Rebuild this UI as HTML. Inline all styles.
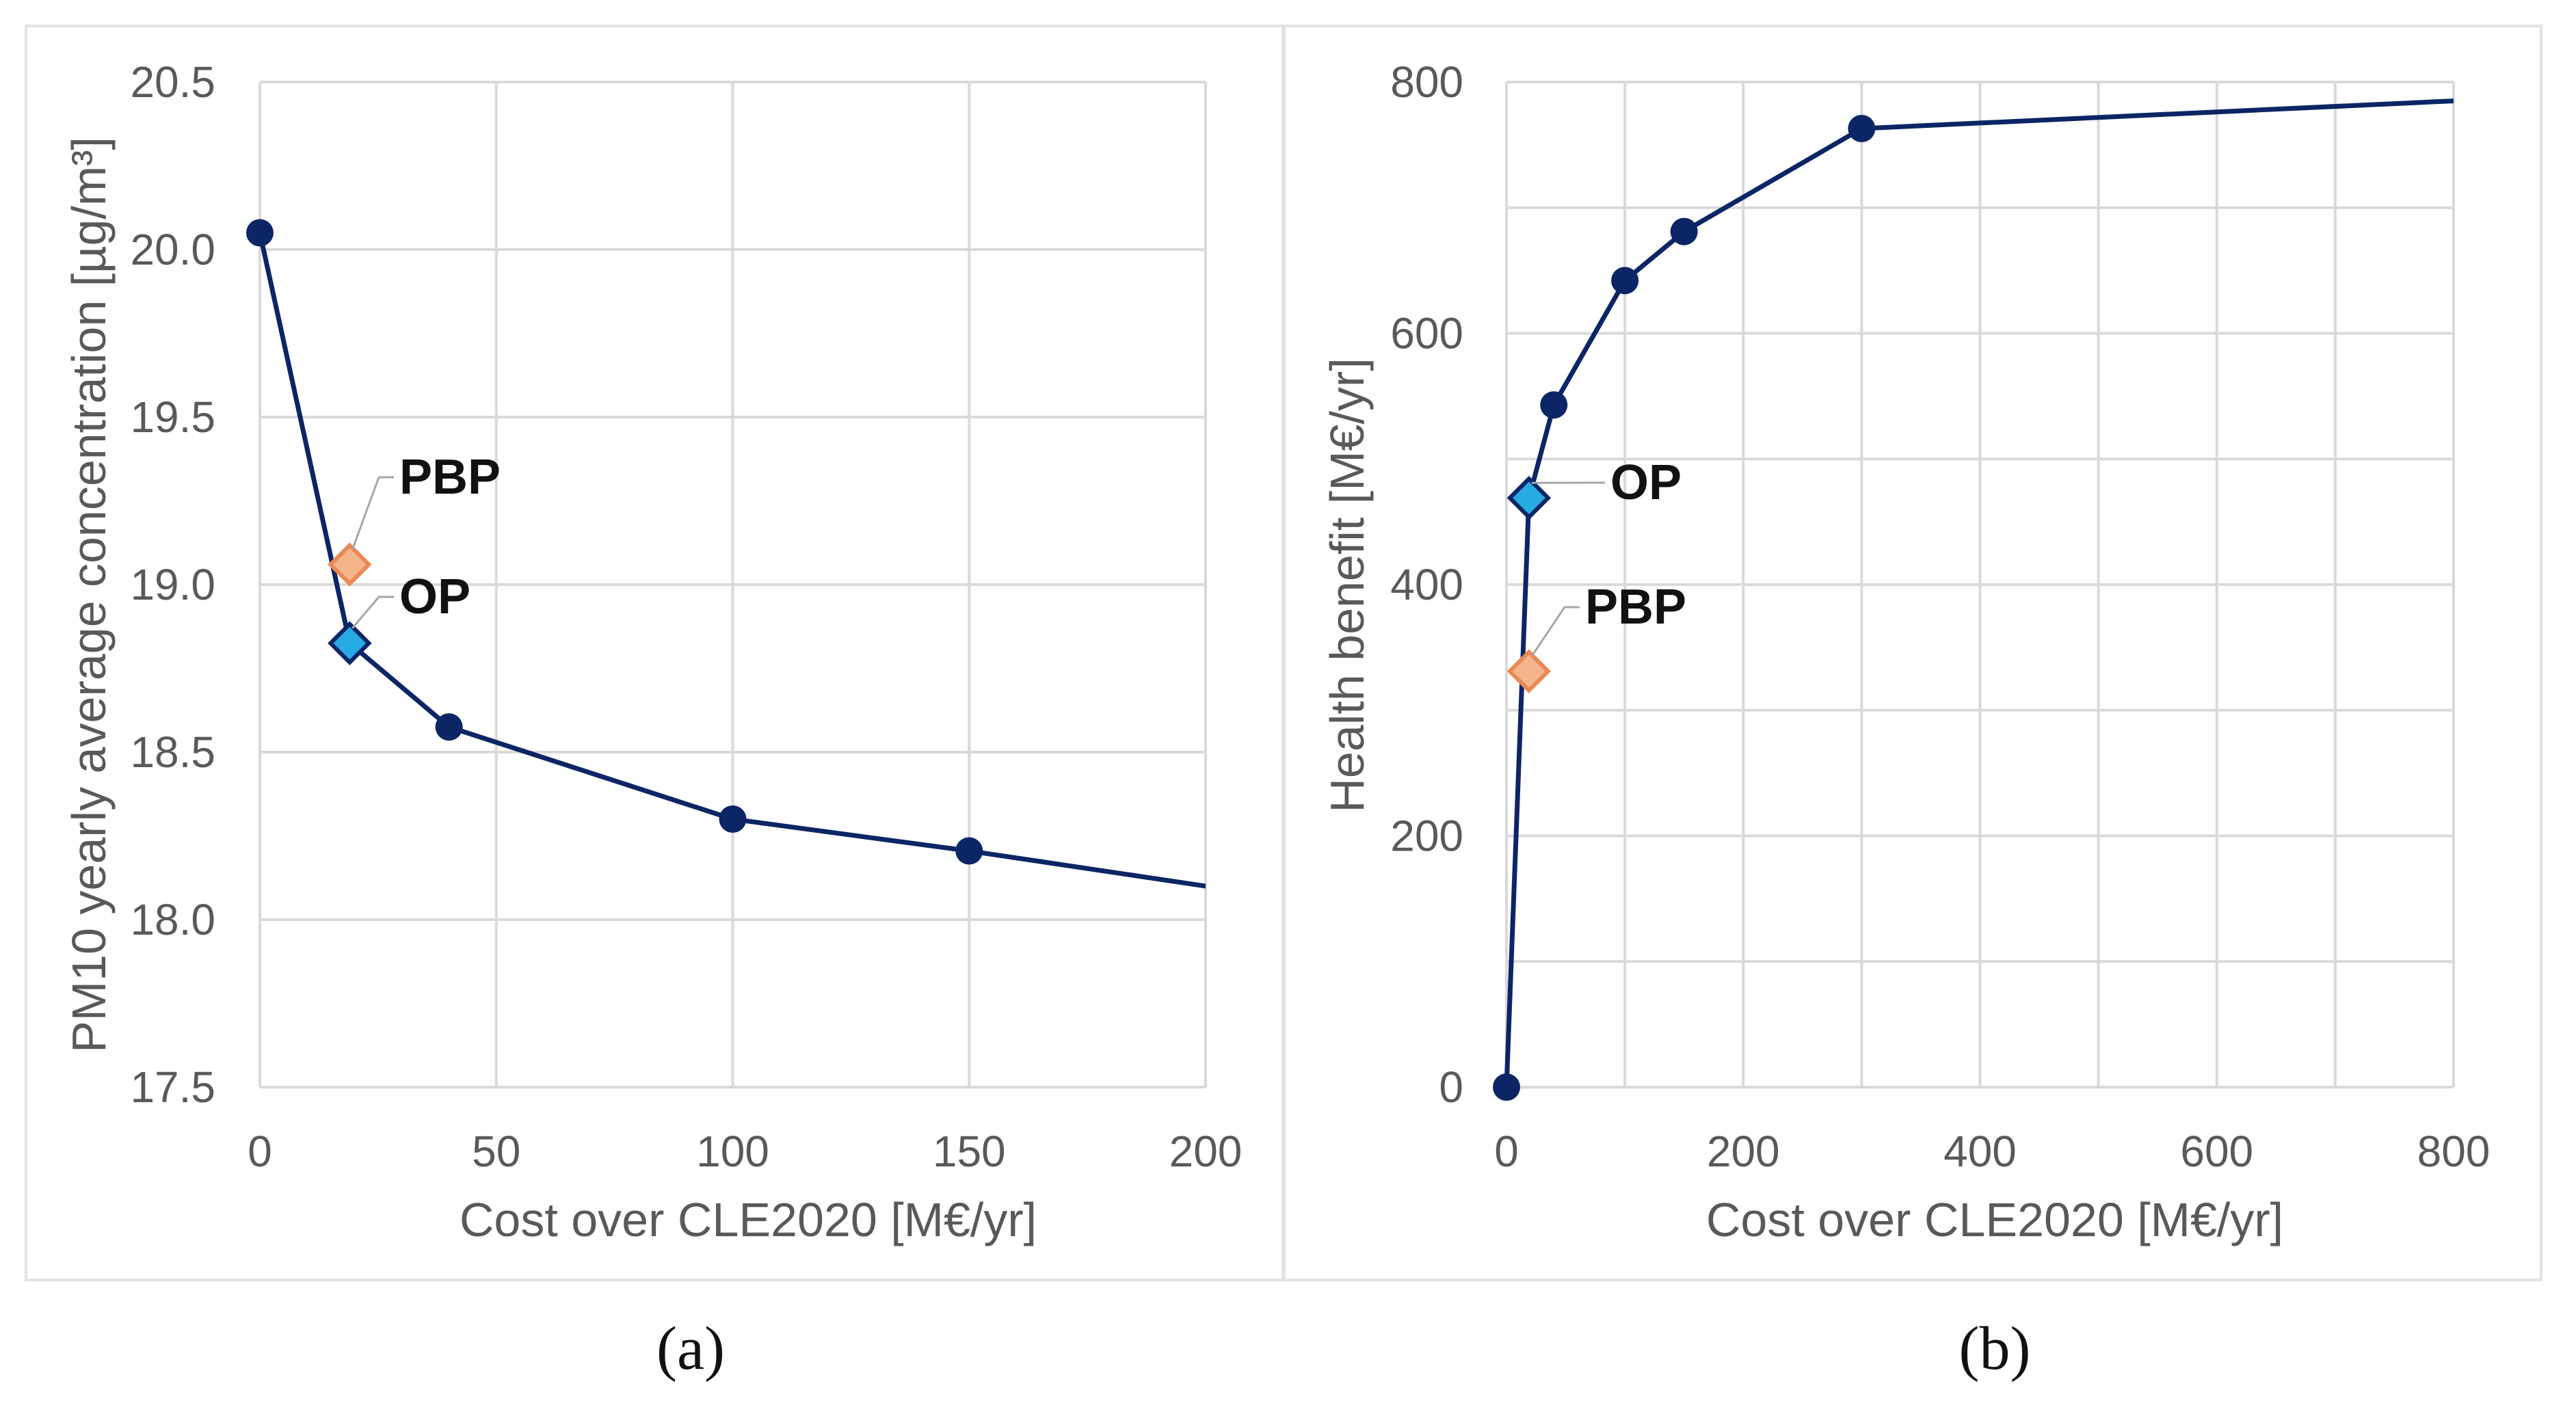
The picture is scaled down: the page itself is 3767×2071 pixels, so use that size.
<!DOCTYPE html>
<html><head><meta charset="utf-8"><style>
html,body{margin:0;padding:0;background:#fff;}
svg{display:block;}
text{font-family:"Liberation Sans",sans-serif;}
</style></head><body>
<svg id="fig" width="3767" height="2071" viewBox="0 0 3767 2071" xmlns="http://www.w3.org/2000/svg">
<defs>
<clipPath id="clipA"><rect x="380" y="100" width="1383" height="1510"/></clipPath>
<clipPath id="clipB"><rect x="2180" y="100" width="1408" height="1510"/></clipPath>
</defs>
<rect x="38" y="38" width="1838" height="1834" fill="#fff" stroke="#e2e2e2" stroke-width="4"/>
<rect x="1878" y="38" width="1838" height="1834" fill="#fff" stroke="#e2e2e2" stroke-width="4"/>
<g id="gA"></g>
<g id="gB"></g>
<text x="1010" y="2002" font-size="90" text-anchor="middle" style="font-family:'Liberation Serif',serif" fill="#111">(a)</text>
<text x="2917" y="2002" font-size="90" text-anchor="middle" style="font-family:'Liberation Serif',serif" fill="#111">(b)</text>
</svg>
<script>
// Panel A data
const aX = [0, 19, 40, 100, 150, 300];
const aY = [20.05, 18.825, 18.575, 18.30, 18.205, 17.89];
const aMarkerX = [0, 40, 100, 150];
const aMarkerY = [20.05, 18.575, 18.30, 18.205];
const aOP = [19, 18.825];
const aPBP = [19, 19.06];
const aXTicks = [0, 50, 100, 150, 200];
const aYTicks = [17.5, 18.0, 18.5, 19.0, 19.5, 20.0, 20.5];
// Panel B data
const bX = [0, 19, 40, 100, 150, 300, 800];
const bY = [0, 469, 543, 642, 681, 763, 785];
const bMarkerX = [0, 40, 100, 150, 300];
const bMarkerY = [0, 543, 642, 681, 763];
const bOP = [19, 469];
const bPBP = [19, 331];
const bXTicks = [0, 200, 400, 600, 800];
const bXGrid = [0, 100, 200, 300, 400, 500, 600, 700, 800];
const bYTicks = [0, 200, 400, 600, 800];
const bYGrid = [0, 100, 200, 300, 400, 500, 600, 700, 800];

const NS = "http://www.w3.org/2000/svg";
function mk(parent, tag, attrs, txt){
  const e = document.createElementNS(NS, tag);
  for (const k in attrs) e.setAttribute(k, attrs[k]);
  if (txt !== undefined) e.textContent = txt;
  parent.appendChild(e);
  return e;
}
const NAVY = "#0b2565";

function drawChart(g, cfg){
  const sx = v => cfg.x0 + (v - cfg.xmin) / (cfg.xmax - cfg.xmin) * (cfg.x1 - cfg.x0);
  const sy = v => cfg.y0 - (v - cfg.ymin) / (cfg.ymax - cfg.ymin) * (cfg.y0 - cfg.y1);
  cfg.xGrid.forEach(v => {
    const l = mk(g, "line", {x1: sx(v), x2: sx(v), y1: cfg.y1, y2: cfg.y0, stroke: "#d9d9d9", "stroke-width": 4});
    
    
  });
  cfg.yGrid.forEach(v => {
    const l = mk(g, "line", {x1: cfg.x0, x2: cfg.x1, y1: sy(v), y2: sy(v), stroke: "#d9d9d9", "stroke-width": 4});
    
    
  });
  cfg.xTicks.forEach(v => {
    const t = mk(g, "text", {x: sx(v), y: 1706, "font-size": 64, fill: "#595959", "text-anchor": "middle"}, String(v));
    
    
  });
  cfg.yTicks.forEach(v => {
    const t = mk(g, "text", {x: cfg.yLabX, y: sy(v) + 22, "font-size": 64, fill: "#595959", "text-anchor": "end"}, cfg.yFmt(v));
    
    
  });
  const xt = mk(g, "text", {x: cfg.xTitleX, y: 1808, "font-size": 70, fill: "#595959", "text-anchor": "middle"}, "Cost over CLE2020 [M€/yr]");
  
  
  const yt = mk(g, "text", {x: 0, y: 0, "font-size": 70, fill: "#595959", "text-anchor": "middle", transform: `translate(${cfg.yTitleX},${cfg.yTitleY}) rotate(-90)`}, cfg.yTitle);
  
  
  const pts = cfg.lx.map((v, i) => sx(v) + "," + sy(cfg.ly[i])).join(" ");
  const pl = mk(g, "polyline", {points: pts, fill: "none", stroke: NAVY, "stroke-width": 7, "stroke-linejoin": "round", "clip-path": cfg.clip});
  
  
  cfg.mx.forEach((v, i) => {
    const c = mk(g, "circle", {cx: sx(v), cy: sy(cfg.my[i]), r: 20, fill: NAVY});
    
    
  });
  function diamond(p, fill, stroke, name){
    const cx = sx(p[0]), cy = sy(p[1]), r = 28;
    const d = mk(g, "polygon", {points: `${cx},${cy-r} ${cx+r},${cy} ${cx},${cy+r} ${cx-r},${cy}`, fill: fill, stroke: stroke, "stroke-width": 6});
    
    
  }
  function label(p, lx, ly, txt, name){
    const cx = sx(p[0]), cy = sy(p[1]);
    const l = mk(g, "polyline", {points: `${cx+4},${cy-22} ${lx-30},${ly-24} ${lx-8},${ly-24}`, fill: "none", stroke: "#a6a6a6", "stroke-width": 3});
    
    
    const t = mk(g, "text", {x: lx, y: ly, "font-size": 72, "font-weight": "bold", fill: "#111"}, txt);
    
    
  }
  diamond(cfg.pbp, "#f6b48c", "#e98a55", "pbp-marker");
  diamond(cfg.op, "#27a9e1", NAVY, "op-marker");
  label(cfg.pbp, cfg.pbpLab[0], cfg.pbpLab[1], "PBP", "pbp");
  label(cfg.op, cfg.opLab[0], cfg.opLab[1], "OP", "op");
}

drawChart(document.getElementById("gA"), {
  x0: 380, x1: 1763, y0: 1590, y1: 120, xmin: 0, xmax: 200, ymin: 17.5, ymax: 20.5,
  xGrid: aXTicks, yGrid: aYTicks, xTicks: aXTicks, yTicks: aYTicks, yFmt: v => v.toFixed(1),
  yLabX: 315, xTitleX: 1094, yTitleX: 154, yTitleY: 870,
  yTitle: "PM10 yearly average concentration  [µg/m³]",
  lx: aX, ly: aY, mx: aMarkerX, my: aMarkerY, clip: "url(#clipA)",
  op: aOP, pbp: aPBP, opLab: [584, 897], pbpLab: [584, 722]
});
drawChart(document.getElementById("gB"), {
  x0: 2203, x1: 3588, y0: 1590, y1: 120, xmin: 0, xmax: 800, ymin: 0, ymax: 800,
  xGrid: bXGrid, yGrid: bYGrid, xTicks: bXTicks, yTicks: bYTicks, yFmt: v => String(v),
  yLabX: 2140, xTitleX: 2917, yTitleX: 1994, yTitleY: 856,
  yTitle: "Health  benefit  [M€/yr]",
  lx: bX, ly: bY, mx: bMarkerX, my: bMarkerY, clip: "url(#clipB)",
  op: bOP, pbp: bPBP, opLab: [2355, 730], pbpLab: [2318, 912]
});
</script>
</body></html>
